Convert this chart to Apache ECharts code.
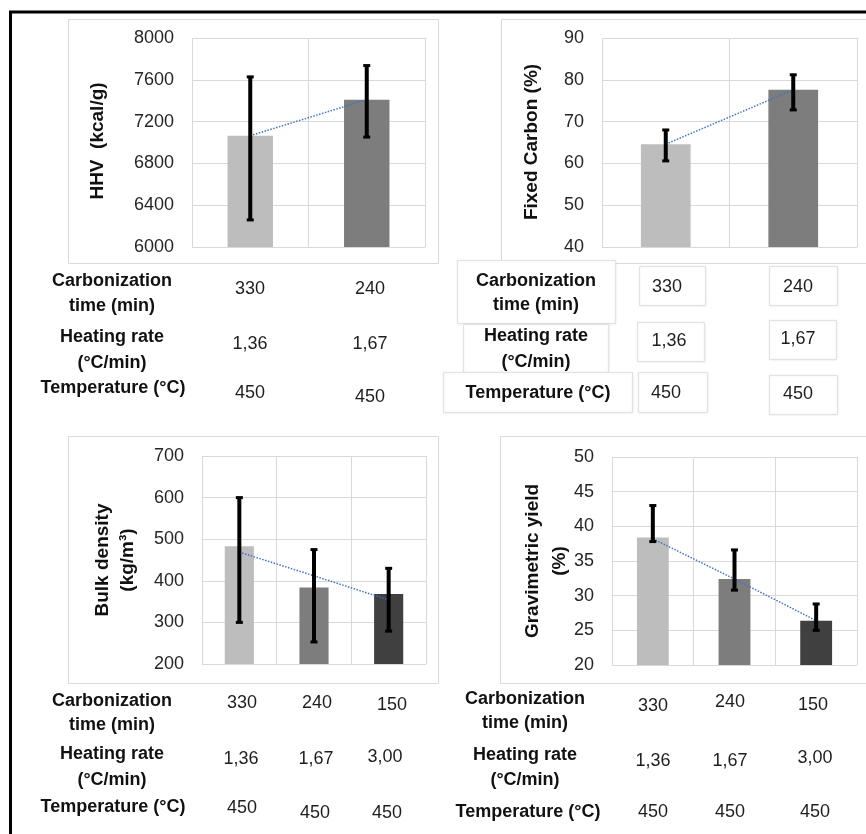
<!DOCTYPE html>
<html>
<head>
<meta charset="utf-8">
<script src="https://cdn.jsdelivr.net/npm/echarts@6.0.0/dist/echarts.min.js"></script>
<style>
html,body{margin:0;padding:0;background:#fff;}
#chart{width:866px;height:834px;}
</style>
</head>
<body>
<div id="chart"></div>
<script>
// ---- data ----
const carbTime2 = ['330', '240'];
const heatRate2 = ['1,36', '1,67'];
const temp2 = ['450', '450'];
const carbTime3 = ['330', '240', '150'];
const heatRate3 = ['1,36', '1,67', '3,00'];
const temp3 = ['450', '450', '450'];

const hhv = [7065, 7410];
const hhvLow = [6259, 7052];
const hhvHigh = [7628, 7736];
const hhvTrend = [7065, 7410];

const fixedCarbon = [64.6, 77.6];
const fcLow = [60.6, 72.8];
const fcHigh = [68.0, 81.2];
const fcTrend = [64.6, 77.6];

const bulkDensity = [483, 384, 368];
const bdLow = [300, 253, 279];
const bdHigh = [600, 475, 430];
const bdTrend = [469, 412, 354];

const gravYield = [38.4, 32.4, 26.4];
const gyLow = [37.8, 30.8, 25.0];
const gyHigh = [43.0, 36.6, 28.8];
const gyTrend = [38.2, 32.4, 26.4];

const barColors = ['#bdbdbd', '#7d7d7d', '#404040'];

const FONT = '"Liberation Sans", Arial, sans-serif';
const GRID = '#d9d9d9';

const grids = [
  {left: 192, top: 38, width: 233, height: 209},
  {left: 602, top: 38, width: 255, height: 209},
  {left: 202, top: 456, width: 224, height: 208},
  {left: 612, top: 457, width: 245, height: 208}
];

const yDefs = [
  {min: 6000, max: 8000, interval: 400},
  {min: 40, max: 90, interval: 10},
  {min: 200, max: 700, interval: 100},
  {min: 20, max: 50, interval: 5}
];

const panels = [
  {cats: carbTime2, vals: hhv, lo: hhvLow, hi: hhvHigh, trend: hhvTrend},
  {cats: carbTime2, vals: fixedCarbon, lo: fcLow, hi: fcHigh, trend: fcTrend},
  {cats: carbTime3, vals: bulkDensity, lo: bdLow, hi: bdHigh, trend: bdTrend},
  {cats: carbTime3, vals: gravYield, lo: gyLow, hi: gyHigh, trend: gyTrend}
];

const xAxes = panels.map((p, i) => ({
  type: 'category', gridIndex: i, data: p.cats,
  axisLabel: {show: false}, axisTick: {show: false}, axisLine: {show: false},
  splitLine: {show: true, lineStyle: {color: GRID, width: 1}}
}));

const yAxes = yDefs.map((d, i) => ({
  type: 'value', gridIndex: i, min: d.min, max: d.max, interval: d.interval,
  axisLine: {show: false}, axisTick: {show: false},
  axisLabel: {fontSize: 18, color: '#262626', fontFamily: FONT, margin: 18,
    formatter: v => String(v)},
  splitLine: {show: true, lineStyle: {color: GRID, width: 1}}
}));

function errRender(params, api) {
  const x = api.value(0);
  const lo = api.coord([x, api.value(1)]);
  const hi = api.coord([x, api.value(2)]);
  const cw = 3.5;
  return {
    type: 'group',
    children: [
      {type: 'line', shape: {x1: lo[0], y1: lo[1], x2: hi[0], y2: hi[1]}, style: {stroke: '#000', lineWidth: 4}},
      {type: 'line', shape: {x1: hi[0] - cw, y1: hi[1], x2: hi[0] + cw, y2: hi[1]}, style: {stroke: '#000', lineWidth: 3}},
      {type: 'line', shape: {x1: lo[0] - cw, y1: lo[1], x2: lo[0] + cw, y2: lo[1]}, style: {stroke: '#000', lineWidth: 3}}
    ]
  };
}

const series = [];
panels.forEach((p, i) => {
  series.push({
    type: 'bar', xAxisIndex: i, yAxisIndex: i, barWidth: '39%', z: 2,
    data: p.vals.map((v, k) => ({value: v, itemStyle: {color: barColors[k]}})),
    silent: true
  });
  series.push({
    type: 'line', xAxisIndex: i, yAxisIndex: i, data: p.trend, symbol: 'none', z: 3,
    lineStyle: {color: '#4472c4', width: 1.5, type: 'dotted'}, silent: true
  });
  series.push({
    type: 'custom', xAxisIndex: i, yAxisIndex: i, z: 4, silent: true,
    renderItem: errRender, encode: {x: 0, y: [1, 2]},
    data: p.vals.map((v, k) => [k, p.lo[k], p.hi[k]])
  });
});

// ---- graphics: frames, titles, tables ----
const g = [];
function frame(x, y, w, h, color) {
  g.push({type: 'rect', z: -1, shape: {x: x, y: y, width: w, height: h},
    style: {fill: 'none', stroke: color || '#d9d9d9', lineWidth: 1}});
}
function txt(s, x, y, bold, lh, rot) {
  g.push({type: 'text', x: x, y: y, rotation: rot || 0, z: 10,
    style: {text: s, fill: bold ? '#111' : '#1e1e1e', fontSize: 18, fontWeight: bold ? 'bold' : 'normal',
      fontFamily: FONT, align: 'center', verticalAlign: 'middle', textAlign: 'center', textVerticalAlign: 'middle',
      lineHeight: lh || 22}});
}
function title(s, x, y, lh) {
  g.push({type: 'text', x: x, y: y, rotation: Math.PI / 2, z: 10,
    style: {text: s, fill: '#111', fontSize: 19, fontWeight: 'bold', fontFamily: FONT,
      align: 'center', verticalAlign: 'middle', textAlign: 'center', textVerticalAlign: 'middle', lineHeight: lh || 24}});
}

// chart frames
frame(68.5, 19.5, 370, 244);
frame(501.5, 19.5, 400, 244);
frame(68.5, 436.5, 370, 247);
frame(500.5, 436.5, 400, 247);
// outer black border
g.push({type: 'rect', z: 20, shape: {x: 10.5, y: 12, width: 900, height: 900},
  style: {fill: 'none', stroke: '#000', lineWidth: 3}});

// axis titles
title('HHV  (kcal/g)', 98, 141);
title('Fixed Carbon (%)', 532, 142);
title('Bulk density\n(kg/m³)', 115.5, 560, 25);
title('Gravimetric yield\n(%)', 546.5, 561, 27);

// top-right table boxes
[[457, 260, 158, 63], [639, 266, 66, 39], [769, 266, 68, 39],
 [463, 324, 145, 48], [637, 322, 67, 39], [769, 320, 67, 39],
 [443, 372, 189, 40], [638, 372, 69, 40], [769, 375, 68, 39]].forEach(b => {
  g.push({type: 'rect', z: 0, shape: {x: b[0] + 0.5, y: b[1] + 0.5, width: b[2], height: b[3]},
    style: {fill: '#fff', stroke: '#e3e3e3', lineWidth: 1, shadowBlur: 2, shadowColor: 'rgba(0,0,0,0.08)'}});
});

const rowLabels = ['Carbonization\ntime (min)', 'Heating rate\n(°C/min)', 'Temperature (°C)'];

// top-left table
txt(rowLabels[0], 112, 294, true, 25);
txt(rowLabels[1], 112, 350, true, 26);
txt(rowLabels[2], 113, 388, true);
[[250, 289], [370, 289]].forEach((p, k) => txt(carbTime2[k], p[0], p[1]));
[[250, 344], [370, 344]].forEach((p, k) => txt(heatRate2[k], p[0], p[1]));
[[250, 393], [370, 397]].forEach((p, k) => txt(temp2[k], p[0], p[1]));

// top-right table
txt(rowLabels[0], 536, 293, true, 24.5);
txt(rowLabels[1], 536, 349, true, 26);
txt(rowLabels[2], 538, 393, true);
[[667, 287], [798, 287]].forEach((p, k) => txt(carbTime2[k], p[0], p[1]));
[[669, 341], [798, 339]].forEach((p, k) => txt(heatRate2[k], p[0], p[1]));
[[666, 393], [798, 394]].forEach((p, k) => txt(temp2[k], p[0], p[1]));

// bottom-left table
txt(rowLabels[0], 112, 713, true, 23.5);
txt(rowLabels[1], 112, 767, true, 26);
txt(rowLabels[2], 113, 807, true);
[[242, 703], [317, 703], [392, 705]].forEach((p, k) => txt(carbTime3[k], p[0], p[1]));
[[241, 759], [316, 759], [385, 757]].forEach((p, k) => txt(heatRate3[k], p[0], p[1]));
[[242, 808], [315, 813], [387, 813]].forEach((p, k) => txt(temp3[k], p[0], p[1]));

// bottom-right table
txt(rowLabels[0], 525, 711, true, 24);
txt(rowLabels[1], 525, 767.5, true, 25);
txt(rowLabels[2], 528, 812, true);
[[653, 706], [730, 702], [813, 705]].forEach((p, k) => txt(carbTime3[k], p[0], p[1]));
[[653, 761], [730, 761], [815, 758]].forEach((p, k) => txt(heatRate3[k], p[0], p[1]));
[[653, 812], [730, 812], [815, 812]].forEach((p, k) => txt(temp3[k], p[0], p[1]));

const chart = echarts.init(document.getElementById('chart'), null, {renderer: 'canvas'});
chart.setOption({
  backgroundColor: '#fff',
  animation: false,
  grid: grids,
  xAxis: xAxes,
  yAxis: yAxes,
  series: series,
  graphic: {elements: g}
});
</script>
</body>
</html>
